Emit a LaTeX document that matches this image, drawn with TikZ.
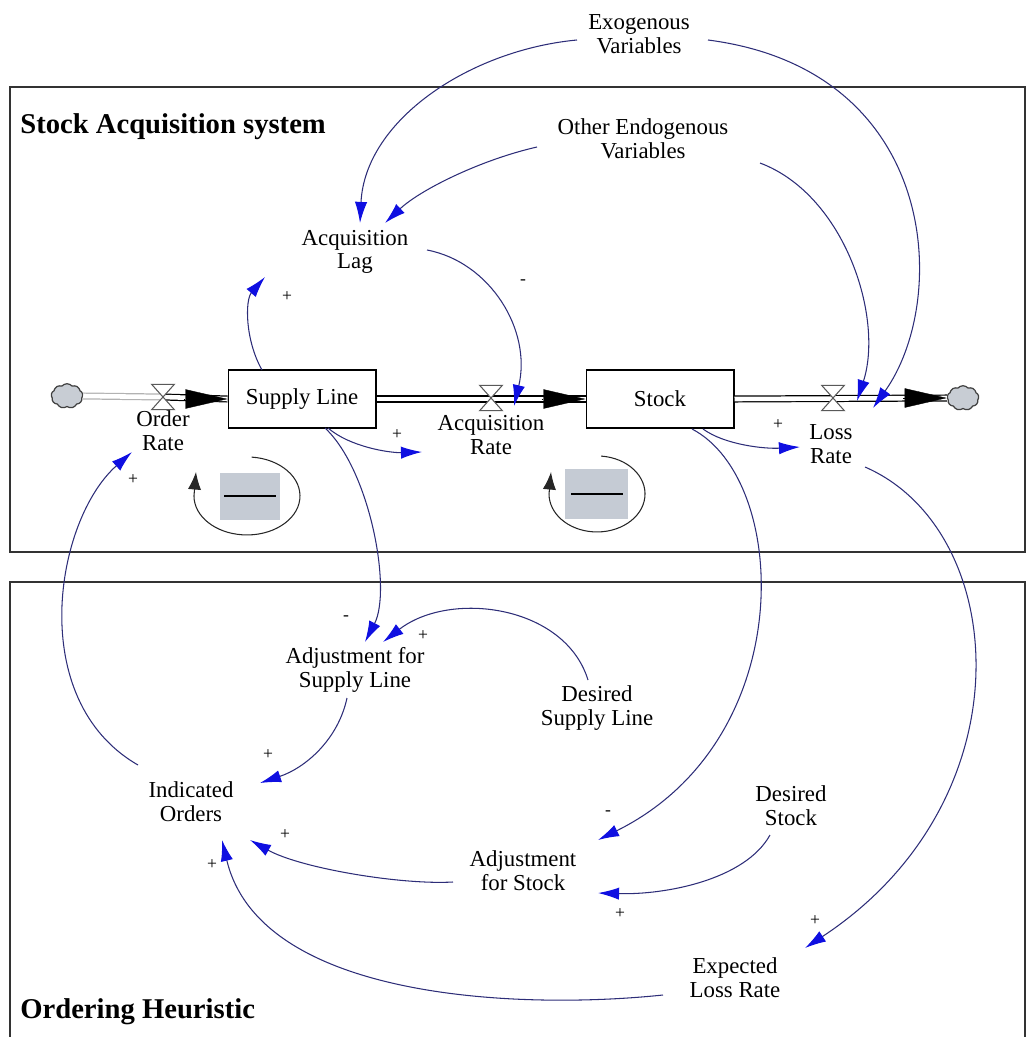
\documentclass[tikz,border=0pt]{standalone}
\usepackage{fontspec}
\setmainfont{Liberation Serif}
\usetikzlibrary{arrows.meta,shapes.symbols}
\definecolor{linkc}{RGB}{45,45,120}
\definecolor{tipc}{RGB}{15,15,225}
\definecolor{loopgrey}{RGB}{197,203,212}
\definecolor{cloudgrey}{RGB}{200,205,212}
\begin{document}
\begin{tikzpicture}[x=0.02cm,y=-0.02cm,
  var/.style={font=\fontsize{13}{13.5}\selectfont, align=center, inner sep=0pt},
  sgn/.style={font=\fontsize{10}{10}\selectfont, inner sep=0pt},
  titlelbl/.style={font=\fontsize{16.3}{18}\selectfont\bfseries, anchor=west, inner sep=0pt},
  stockbox/.style={draw, line width=0.9pt, minimum width=83.9pt, minimum height=32.9pt, font=\fontsize{13}{13.5}\selectfont, inner sep=0pt, fill=white},
  valve/.style={minimum width=12.5pt, minimum height=14pt, inner sep=0pt},
  valveshape/.style={fill=white, draw=black!65, line width=0.6pt},
  cloudnode/.style={cloud, cloud puffs=9, cloud puff arc=100, aspect=1.25, draw=black!75, fill=cloudgrey, line width=0.7pt, minimum width=18pt, minimum height=14pt, inner sep=0pt},
  link/.style={draw=linkc, line width=0.6pt, -{Latex[length=12pt,width=7pt,color=tipc]}},
  pipe/.style={draw=black, double=white, double distance=2.6pt, line width=0.7pt},
  flowtip/.style={draw=black, line width=0.2pt, -{Triangle[length=24pt,width=11pt,color=black]}},
  loopline/.style={draw=black!85, line width=0.6pt, -{Latex[length=10pt,width=7.5pt]}},
  frame/.style={draw=black!80, line width=1pt}
]
\useasboundingbox (0,0) rectangle (1027,1037);
\clip (0,0) rectangle (1027,1037);

% frames
\draw[frame] (10,87) rectangle (1025,552);
\draw[frame] (10,1060) -- (10,582) -- (1025,582) -- (1025,1060);
\node[titlelbl] (t1) at (20,127) {Stock Acquisition system};
\node[titlelbl] (t2) at (20,1012) {Ordering Heuristic};

% stocks, valves, clouds
\node[cloudnode] (cloudL) at (67,396) {};
\node[cloudnode] (cloudR) at (963,398) {};
\node[valve] (orv) at (163,397) {};
\node[valve] (acqv) at (491,398) {};
\node[valve] (lossv) at (833,398) {};
\node[stockbox] (sl) at (302,399) {Supply Line};
\node[stockbox] (stock) at (660,399) {Stock};

% pipes
\draw[pipe, draw=gray!60] (cloudL.east) -- (orv.center);
\draw[pipe] (orv.center) -- (sl.west);
\draw[pipe] (sl.east) -- (stock.west);
\draw[pipe] (stock.east) -- (cloudR.west);
\foreach \v in {orv,acqv,lossv}
  \draw[valveshape] (\v.north west) -- (\v.north east) -- (\v.south west) -- (\v.south east) -- cycle;
\draw[flowtip] ([xshift=-25pt]sl.west) -- (sl.west);
\draw[flowtip] ([xshift=-25pt]stock.west) -- (stock.west);
\draw[flowtip] ([xshift=-25pt]cloudR.west) -- (cloudR.west);

% variable labels
\node[var] (exo) at (639,34) {Exogenous\\Variables};
\node[var] (oth) at (643,139) {Other Endogenous\\Variables};
\node[var] (alag) at (355,252) {Acquisition\\Lag};
\node[var] (orlbl) at (163,431) {Order\\Rate};
\node[var] (acqlbl) at (491,435) {Acquisition\\Rate};
\node[var] (losslbl) at (831,444) {Loss\\Rate};
\node[var] (adjsl) at (355,670) {Adjustment for\\Supply Line};
\node[var] (dsl) at (597,708) {Desired\\Supply Line};
\node[var] (ind) at (191,802) {Indicated\\Orders};
\node[var] (dstock) at (791,806) {Desired\\Stock};
\node[var] (adjst) at (523,871) {Adjustment\\for Stock};
\node[var] (elr) at (735,978) {Expected\\Loss Rate};

% loop symbols
\node (loop1) at (247,496) {};
\node (loop2) at (597,494) {};
\fill[loopgrey] (220,473) rectangle (280,520);
\draw[line width=1.3pt] (224,496) -- (276,496);
\draw[loopline] ([shift={(4.6,-38.9)}]loop1.center) arc[start angle=-85, end angle=180, x radius=53, y radius=39] -- ++(2,-24);
\fill[loopgrey] (565,469) rectangle (628,519);
\draw[line width=1.7pt] (571,494) -- (623,494);
\draw[loopline] ([shift={(4.2,-37.9)}]loop2.center) arc[start angle=-85, end angle=180, x radius=48, y radius=38] -- ++(2,-22);

% connectors
\draw[link] ([shift={(-62,6)}]exo.center) .. controls (470,50) and (365,120) .. ([shift={(5,-29)}]alag.center);
\draw[link] ([shift={(69,6)}]exo.center) .. controls (940,70) and (950,300) .. ([shift={(40,10)}]lossv.center);
\draw[link] ([shift={(-106,8)}]oth.center) .. controls (480,160) and (420,190) .. ([shift={(30,-29)}]alag.center);
\draw[link] ([shift={(117,24)}]oth.center) .. controls (845,195) and (884,318) .. ([shift={(24,3)}]lossv.center);
\draw[link] ([shift={(72,-2)}]alag.center) .. controls (490,262) and (532,330) .. ([shift={(23,8)}]acqv.center);
\draw[link] ([shift={(-40,-29)}]sl.center) .. controls (245,340) and (245,300) .. ([shift={(-90,25)}]alag.center);
\draw[link] ([shift={(26,29)}]sl.center) .. controls (350,447) and (390,453) .. ([shift={(-69,17)}]acqlbl.center);
\draw[link] ([shift={(43,30)}]stock.center) .. controls (725,445) and (765,449) .. ([shift={(-31,3)}]losslbl.center);
\draw[link] ([shift={(-53,-37)}]ind.center) .. controls (25,700) and (55,520) .. ([shift={(-31,21)}]orlbl.center);
\draw[link] ([shift={(23,29)}]sl.center) .. controls (370,470) and (392,590) .. ([shift={(10,-28)}]adjsl.center);
\draw[link] ([shift={(-9,-28)}]dsl.center) .. controls (565,605) and (450,590) .. ([shift={(28,-28)}]adjsl.center);
\draw[link] ([shift={(-8,28)}]adjsl.center) .. controls (338,740) and (305,768) .. ([shift={(69,-19)}]ind.center);
\draw[link] ([shift={(32,30)}]stock.center) .. controls (790,480) and (800,740) .. ([shift={(75,-31)}]adjst.center);
\draw[link] ([shift={(-21,29)}]dstock.center) .. controls (745,880) and (665,895) .. ([shift={(75,22)}]adjst.center);
\draw[link] ([shift={(-70,11)}]adjst.center) .. controls (400,885) and (300,868) .. ([shift={(59,38)}]ind.center);
\draw[link] ([shift={(34,23)}]losslbl.center) .. controls (1010,530) and (1030,800) .. ([shift={(70,-30)}]elr.center);
\draw[link] ([shift={(-72,17)}]elr.center) .. controls (520,1010) and (260,1000) .. ([shift={(31,38)}]ind.center);

% polarity signs
\node[sgn] (p1) at (287,297) {+};
\node[sgn] (p2) at (523,282) {-};
\node[sgn] (p3) at (397,435) {+};
\node[sgn] (p4) at (778,425) {+};
\node[sgn] (p5) at (133,480) {+};
\node[sgn] (p6) at (346,618) {-};
\node[sgn] (p7) at (423,636) {+};
\node[sgn] (p8) at (268,755) {+};
\node[sgn] (p9) at (608,813) {-};
\node[sgn] (p10) at (620,914) {+};
\node[sgn] (p11) at (285,835) {+};
\node[sgn] (p12) at (212,865) {+};
\node[sgn] (p13) at (815,921) {+};
\end{tikzpicture}
\end{document}
